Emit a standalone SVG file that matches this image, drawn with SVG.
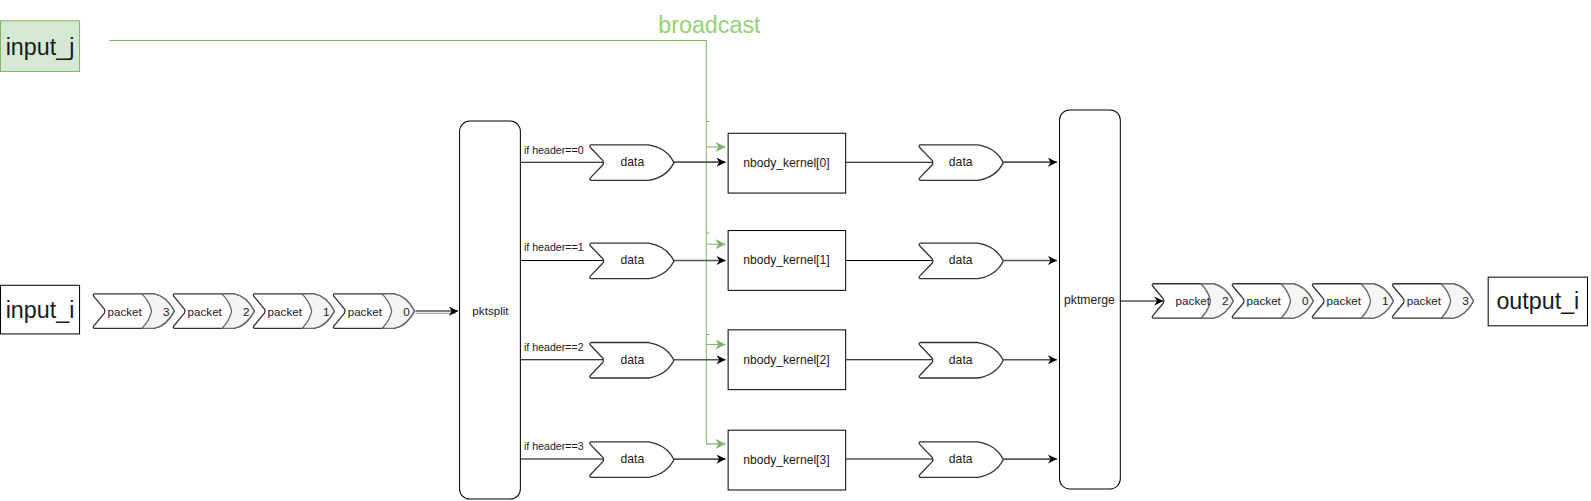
<svg xmlns="http://www.w3.org/2000/svg" xmlns:xlink="http://www.w3.org/1999/xlink" width="1591" height="501" viewBox="0 0 1591 501">
<style>
text{font-family:"Liberation Sans",Arial,Helvetica,sans-serif;fill:#1a1a1a;dominant-baseline:central}
.big{font-size:23px;text-anchor:middle}
.sm{font-size:11.5px;text-anchor:middle}
.dt{font-size:12px;text-anchor:middle}
.kn{font-size:12px;text-anchor:middle}
.lbl{font-size:10.5px;text-anchor:start}
.box{fill:#fff;stroke:#000;stroke-width:1}
.pk{fill:#fff;stroke:#333;stroke-width:1.3;stroke-linejoin:round}
.tab{fill:#f5f5f5;stroke:#666;stroke-width:1.3;stroke-linejoin:round}
.e{fill:none;stroke:#000;stroke-width:1}
.e2{fill:none;stroke:#555;stroke-width:1.6}
.g{fill:none;stroke:#82b366;stroke-width:1}
</style>
<defs>
<path id="pktOuter" d="M1,0 H60 Q72,2 80,17 Q72,32 60,34 H1 Q-1,33 1,31 L11,19 Q12,17 11,15 L1,3 Q-1,1 1,0 Z"/>
<path id="pktTab" d="M48,0 H60 Q72,2 80,17 Q72,32 60,34 H48 Q55,27 57,19 Q58,17 57,15 Q55,7 48,0 Z"/>
<path id="dataShape" d="M1,0 H58 Q76,3 83,17.5 Q76,32 58,35 H1 Q-1,34 1,32 L13,19.5 Q14,17.5 13,15.5 L1,3 Q-1,1 1,0 Z"/>
<marker id="ab" viewBox="0 0 10 10" refX="10" refY="5" markerWidth="9" markerHeight="9" markerUnits="userSpaceOnUse" orient="auto">
<path d="M0,0 L10,5 L0,10 L3,5 Z" fill="#000"/>
</marker>
<marker id="ag" viewBox="0 0 10 10" refX="10" refY="5" markerWidth="10" markerHeight="10" markerUnits="userSpaceOnUse" orient="auto">
<path d="M0,0 L10,5 L0,10 L3,5 Z" fill="#82b366"/>
</marker>
</defs>
<g transform="scale(1.0134)">
<g id="connectors">
<path class="g" d="M108,40 H697 V438 H716" marker-end="url(#ag)"/>
<path class="g" d="M697,145 H716" marker-end="url(#ag)"/>
<path class="g" d="M697,241 H716" marker-end="url(#ag)"/>
<path class="g" d="M697,340 H716" marker-end="url(#ag)"/>
<path class="g" d="M697,120 H700 M697,230 H700 M697,330 H700"/>
<path d="M410,309 H450" fill="none" stroke="#999" stroke-width="1"/>
<path class="e" d="M410,307 H452" marker-end="url(#ab)"/>
<path class="e" d="M513,160 H596 M513,257 H596 M513,355 H596 M513,453 H596"/>
<path class="e2" d="M665,160 H716" marker-end="url(#ab)"/>
<path class="e2" d="M665,257 H716" marker-end="url(#ab)"/>
<path class="e2" d="M665,355 H716" marker-end="url(#ab)"/>
<path class="e2" d="M665,453 H716" marker-end="url(#ab)"/>
<path class="e" d="M835,160 H921 M835,257 H921 M835,355 H921 M835,453 H921"/>
<path class="e2" d="M990,160 H1043" marker-end="url(#ab)"/>
<path class="e2" d="M990,257 H1043" marker-end="url(#ab)"/>
<path class="e2" d="M990,355 H1043" marker-end="url(#ab)"/>
<path class="e2" d="M990,453 H1043" marker-end="url(#ab)"/>
<path class="e" d="M1105,297 H1148" marker-end="url(#ab)"/>
</g>

<g id="input_j">
<rect x="0.5" y="20.5" width="78" height="50" fill="#d5e8d4" stroke="#82b366"/>
<text class="big" x="39.5" y="46">input_j</text>
</g>
<g id="broadcast_label">
<text class="big" x="700" y="25" style="fill:#97d077">broadcast</text>
</g>

<g id="input_i">
<rect class="box" x="0.5" y="281.5" width="78" height="48"/>
<text class="big" x="39.5" y="305.5">input_i</text>
</g>

<g id="input_packets">
<g id="in_pkt3"><use href="#pktOuter" x="92" y="290" class="pk"/><use href="#pktTab" x="92" y="290" class="tab"/><text class="sm" x="123" y="307">packet</text><text class="sm" x="164" y="307">3</text></g>
<g id="in_pkt2"><use href="#pktOuter" x="171" y="290" class="pk"/><use href="#pktTab" x="171" y="290" class="tab"/><text class="sm" x="202" y="307">packet</text><text class="sm" x="243" y="307">2</text></g>
<g id="in_pkt1"><use href="#pktOuter" x="250" y="290" class="pk"/><use href="#pktTab" x="250" y="290" class="tab"/><text class="sm" x="281" y="307">packet</text><text class="sm" x="322" y="307">1</text></g>
<g id="in_pkt0"><use href="#pktOuter" x="329" y="290" class="pk"/><use href="#pktTab" x="329" y="290" class="tab"/><text class="sm" x="360" y="307">packet</text><text class="sm" x="401" y="307">0</text></g>
</g>

<g id="pktsplit">
<rect class="box" x="453.5" y="119.5" width="60" height="373" rx="10"/>
<text class="sm" x="484" y="306">pktsplit</text>
</g>

<g id="split_labels">
<text class="lbl" x="517" y="148">if header==0</text>
<text class="lbl" x="517" y="244">if header==1</text>
<text class="lbl" x="517" y="342">if header==2</text>
<text class="lbl" x="517" y="440">if header==3</text>
</g>

<g id="data_in">
<g id="data_in0"><use href="#dataShape" x="582" y="143" class="pk"/><text class="dt" x="624" y="160">data</text></g>
<g id="data_in1"><use href="#dataShape" x="582" y="240" class="pk"/><text class="dt" x="624" y="257">data</text></g>
<g id="data_in2"><use href="#dataShape" x="582" y="338" class="pk"/><text class="dt" x="624" y="355">data</text></g>
<g id="data_in3"><use href="#dataShape" x="582" y="436" class="pk"/><text class="dt" x="624" y="453">data</text></g>
</g>

<g id="kernel0"><rect class="box" x="718.5" y="131.5" width="116" height="59"/><text class="kn" x="776" y="161">nbody_kernel[0]</text></g>
<g id="kernel1"><rect class="box" x="718.5" y="227.5" width="116" height="59"/><text class="kn" x="776" y="257">nbody_kernel[1]</text></g>
<g id="kernel2"><rect class="box" x="718.5" y="325.5" width="116" height="59"/><text class="kn" x="776" y="355">nbody_kernel[2]</text></g>
<g id="kernel3"><rect class="box" x="718.5" y="424.5" width="116" height="59"/><text class="kn" x="776" y="454">nbody_kernel[3]</text></g>

<g id="data_out">
<g id="data_out0"><use href="#dataShape" x="907" y="143" class="pk"/><text class="dt" x="948" y="160">data</text></g>
<g id="data_out1"><use href="#dataShape" x="907" y="240" class="pk"/><text class="dt" x="948" y="257">data</text></g>
<g id="data_out2"><use href="#dataShape" x="907" y="338" class="pk"/><text class="dt" x="948" y="355">data</text></g>
<g id="data_out3"><use href="#dataShape" x="907" y="436" class="pk"/><text class="dt" x="948" y="453">data</text></g>
</g>

<g id="pktmerge">
<rect class="box" x="1045.5" y="108.5" width="60" height="374" rx="10"/>
<text class="dt" x="1075" y="296">pktmerge</text>
</g>

<g id="output_packets">
<g id="out_pkt2"><use href="#pktOuter" x="1137" y="280" class="pk"/><use href="#pktTab" x="1137" y="280" class="tab"/><text class="sm" x="1177" y="297">packet</text><text class="sm" x="1209" y="297">2</text></g>
<g id="out_pkt0"><use href="#pktOuter" x="1216" y="280" class="pk"/><use href="#pktTab" x="1216" y="280" class="tab"/><text class="sm" x="1247" y="297">packet</text><text class="sm" x="1288" y="297">0</text></g>
<g id="out_pkt1"><use href="#pktOuter" x="1295" y="280" class="pk"/><use href="#pktTab" x="1295" y="280" class="tab"/><text class="sm" x="1326" y="297">packet</text><text class="sm" x="1367" y="297">1</text></g>
<g id="out_pkt3"><use href="#pktOuter" x="1374" y="280" class="pk"/><use href="#pktTab" x="1374" y="280" class="tab"/><text class="sm" x="1405" y="297">packet</text><text class="sm" x="1446" y="297">3</text></g>
</g>

<g id="output_i">
<rect class="box" x="1468.5" y="273.5" width="98" height="48"/>
<text class="big" x="1517.5" y="297">output_i</text>
</g>
</g>
</svg>
